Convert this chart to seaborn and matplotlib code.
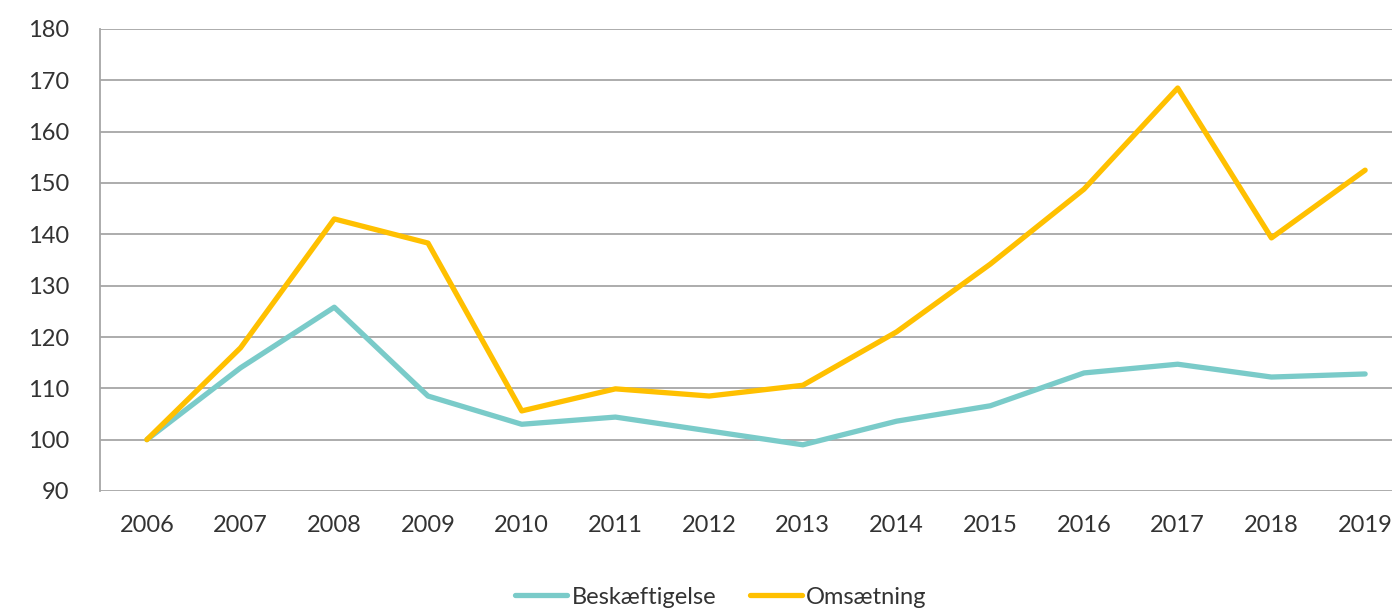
import matplotlib
matplotlib.use("Agg")
import matplotlib.pyplot as plt
import seaborn as sns
import pandas as pd

years = list(range(2006, 2020))
beskaeftigelse = [100, 114, 125.8, 108.5, 103, 104.4, 101.7, 99, 103.6, 106.6, 113, 114.7, 112.2, 112.8]
omsaetning = [100, 117.9, 143, 138.3, 105.6, 109.9, 108.5, 110.6, 121, 134.2, 148.8, 168.5, 139.3, 152.5]
series_names = ["Beskæftigelse", "Omsætning"]
yticks = list(range(90, 190, 10))

df = pd.DataFrame({"year": years * 2,
                   "value": beskaeftigelse + omsaetning,
                   "series": [series_names[0]] * len(years) + [series_names[1]] * len(years)})

sns.set_theme(style="white")
plt.rcParams['font.family'] = ['Lato', 'DejaVu Sans']

fig = plt.figure(figsize=(13.92, 6.10), dpi=100)
ax = fig.add_axes([100 / 1392, 1 - 491 / 610, 1312 / 1392, (491 - 29) / 610])

palette = {"Beskæftigelse": "#7ACBC9", "Omsætning": "#FFC000"}
sns.lineplot(data=df, x="year", y="value", hue="series", palette=palette,
             linewidth=3.8, ax=ax, legend=True, solid_capstyle="round")

ax.set_xlim(2005.5, 2019.5)
ax.set_ylim(90, 180)
ax.set_yticks(yticks)
ax.set_xticks(years)
ax.set_xticklabels([str(y) for y in years])
ax.set_xlabel("")
ax.set_ylabel("")
ax.grid(axis="y", color="#A6A6A6", linewidth=1.3)
ax.set_axisbelow(True)
for s in ["top", "right", "bottom"]:
    ax.spines[s].set_visible(False)
ax.spines["left"].set_color("#A6A6A6")
ax.spines["left"].set_linewidth(1.3)
ax.tick_params(axis="both", length=0, labelsize=17, colors="#333333")
ax.tick_params(axis="y", pad=22)
ax.tick_params(axis="x", pad=17)

handles, labels = ax.get_legend_handles_labels()
ax.legend_.remove()
fig.legend(handles, labels, loc="center", bbox_to_anchor=(0.518, 1 - 597 / 610),
           ncol=2, frameon=False, fontsize=17, handlelength=2.2, columnspacing=1.4,
           handletextpad=0.2, labelcolor="#333333")

fig.savefig("out.png", dpi=100)
